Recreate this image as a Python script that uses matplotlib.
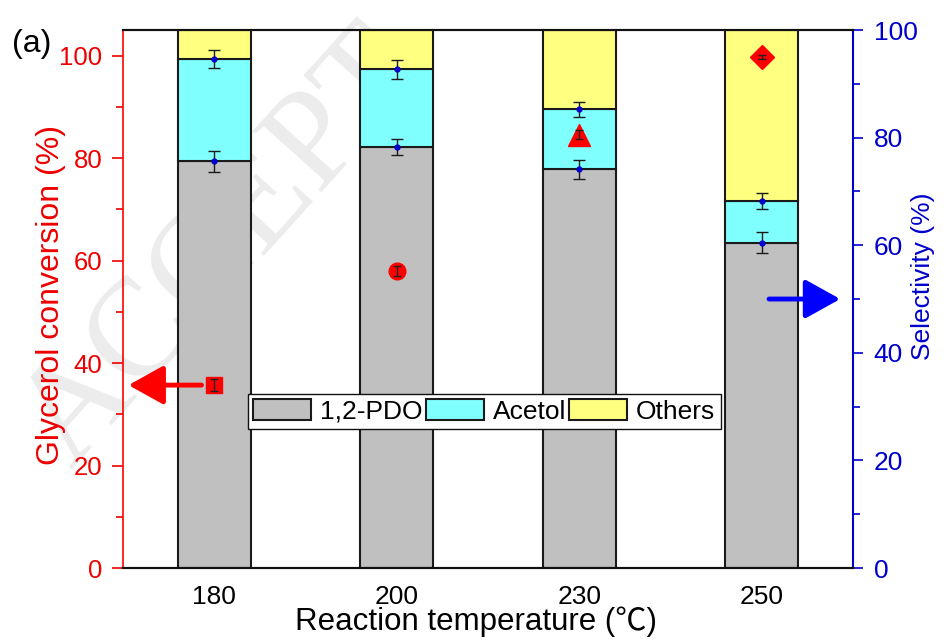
import matplotlib
matplotlib.use("Agg")
import matplotlib.pyplot as plt
import numpy as np
from matplotlib.ticker import MultipleLocator

plt.rcParams['font.family'] = ['Liberation Sans', 'Noto Sans CJK SC', 'DejaVu Sans']

# ---- data ----
temperatures = ['180', '200', '230', '250']
pdo = [75.6, 78.3, 74.1, 60.5]          # 1,2-PDO selectivity (%)
acetol = [19.0, 14.4, 11.2, 7.7]        # Acetol selectivity (%)
others = [5.4, 7.3, 14.7, 31.8]         # Others selectivity (%)
pdo_err = [2.0, 1.5, 1.8, 2.0]
acetol_err = [1.7, 1.8, 1.4, 1.5]
conversion = [35.7, 58.0, 84.6, 99.7]   # Glycerol conversion (%)
conversion_err = [1.1, 1.0, 0.9, 0.4]
conv_markers = ['s', 'o', '^', 'D']
legend_labels = ['1,2-PDO', 'Acetol', 'Others']

RED = '#ee0000'
BLUE = '#0000cc'

fig = plt.figure(figsize=(9.5, 6.43), dpi=100)

# faint watermark (behind everything)
fig.text(0.075, 0.27, 'ACCEPT', rotation=48, rotation_mode='anchor', fontsize=100,
         family='Liberation Serif', color='#ececec', ha='left', va='baseline',
         zorder=-10)

ax = fig.add_axes([0.1295, 0.1166, 0.7684, 0.8367])
ax2 = ax.twinx()
ax2.set_zorder(ax.get_zorder() - 1)
ax.patch.set_visible(False)
ax2.patch.set_visible(False)

x = np.arange(len(temperatures))
w = 0.40
b1 = ax2.bar(x, pdo, w, color='#c0c0c0', edgecolor='#1a1a1a', lw=1.5, label=legend_labels[0], zorder=2)
b2 = ax2.bar(x, acetol, w, bottom=pdo, color='#80ffff', edgecolor='#1a1a1a', lw=1.5, label=legend_labels[1], zorder=2)
bottom3 = [p + a for p, a in zip(pdo, acetol)]
b3 = ax2.bar(x, others, w, bottom=bottom3, color='#ffff80', edgecolor='#1a1a1a', lw=1.5, label=legend_labels[2], zorder=2)

ax2.errorbar(x, pdo, yerr=pdo_err, fmt='o', ms=3.5, mfc=BLUE, mec=BLUE,
             ecolor='#1a1a1a', elinewidth=1.0, capsize=4, capthick=1.0, zorder=3)
ax2.errorbar(x, bottom3, yerr=acetol_err, fmt='o', ms=3.5, mfc=BLUE, mec=BLUE,
             ecolor='#1a1a1a', elinewidth=1.0, capsize=4, capthick=1.0, zorder=3)

# conversion markers
for xi, cv, ce, mk in zip(x, conversion, conversion_err, conv_markers):
    ms = {'s': 11, 'o': 12, '^': 16, 'D': 12}[mk]
    ax.plot([xi], [cv], marker=mk, ms=ms, color='#ff0000', mec='#ff0000', ls='none', zorder=4)
    ax.errorbar([xi], [cv], yerr=[ce], fmt='none', ecolor='#222222', elinewidth=1.0,
                capsize=3, capthick=1.0, zorder=5)

# arrows
ax.annotate('', xy=(-0.47, conversion[0]), xytext=(-0.07, conversion[0]),
            arrowprops=dict(arrowstyle='-|>,head_length=0.9,head_width=0.5', lw=3.5,
                            color='#ff0000', mutation_scale=24, shrinkA=0, shrinkB=0),
            zorder=6)
ax2.annotate('', xy=(3.43, 50), xytext=(3.04, 50),
             arrowprops=dict(arrowstyle='-|>,head_length=0.9,head_width=0.5', lw=3.5,
                             color='#0000ff', mutation_scale=24, shrinkA=0, shrinkB=0),
             zorder=6)

ax.set_xlim(-0.5, 3.5)
ax.set_ylim(0, 105)
ax2.set_ylim(0, 100)

ax.set_xticks(x)
ax.set_xticklabels(temperatures, fontsize=19)
ax.tick_params(axis='x', length=0, pad=12)

ax.yaxis.set_major_locator(MultipleLocator(20))
ax.yaxis.set_minor_locator(MultipleLocator(10))
ax2.yaxis.set_major_locator(MultipleLocator(20))
ax2.yaxis.set_minor_locator(MultipleLocator(10))
ax.tick_params(axis='y', which='major', length=8, width=1.2, color=RED, labelcolor=RED,
               labelsize=18.5, pad=7)
ax.tick_params(axis='y', which='minor', length=5, width=1.2, color=RED)
ax2.tick_params(axis='y', which='major', length=7, width=1.2, color=BLUE, labelcolor=BLUE,
                labelsize=19, pad=8)
ax2.tick_params(axis='y', which='minor', length=5, width=1.2, color=BLUE)

for a in (ax, ax2):
    a.spines['top'].set_color('#111111')
    a.spines['bottom'].set_color('#111111')
    a.spines['top'].set_linewidth(1.5)
    a.spines['bottom'].set_linewidth(1.5)
ax.spines['right'].set_visible(False)
ax2.spines['left'].set_visible(False)
ax.spines['left'].set_color('#ff0000')
ax.spines['left'].set_linewidth(1.2)
ax2.spines['right'].set_color(BLUE)
ax2.spines['right'].set_linewidth(1.5)

ax.set_ylabel('Glycerol conversion (%)', fontsize=23, color=RED)
ax.yaxis.set_label_coords(-0.078, 0.507)
ax2.set_ylabel('Selectivity (%)', fontsize=19, color=BLUE, rotation=90, va='top')
ax2.yaxis.set_label_coords(1.08, 0.543)
ax.set_xlabel('Reaction temperature (\u2103)', fontsize=22.5)
ax.xaxis.set_label_coords(0.484, -0.072)

leg = ax2.legend(handles=[b1, b2, b3], labels=legend_labels, ncol=3, loc='lower left',
                 bbox_to_anchor=(0.171, 0.258), fontsize=19, frameon=True, fancybox=False,
                 edgecolor='#111111', framealpha=1, handlelength=2.2, handleheight=0.85,
                 handletextpad=0.35, columnspacing=0.1, borderpad=0.2, borderaxespad=0)
leg.get_frame().set_linewidth(1.0)

fig.text(0.013, 0.932, '(a)', fontsize=23, color='black', ha='left', va='center')

fig.savefig('out.png', dpi=100)
